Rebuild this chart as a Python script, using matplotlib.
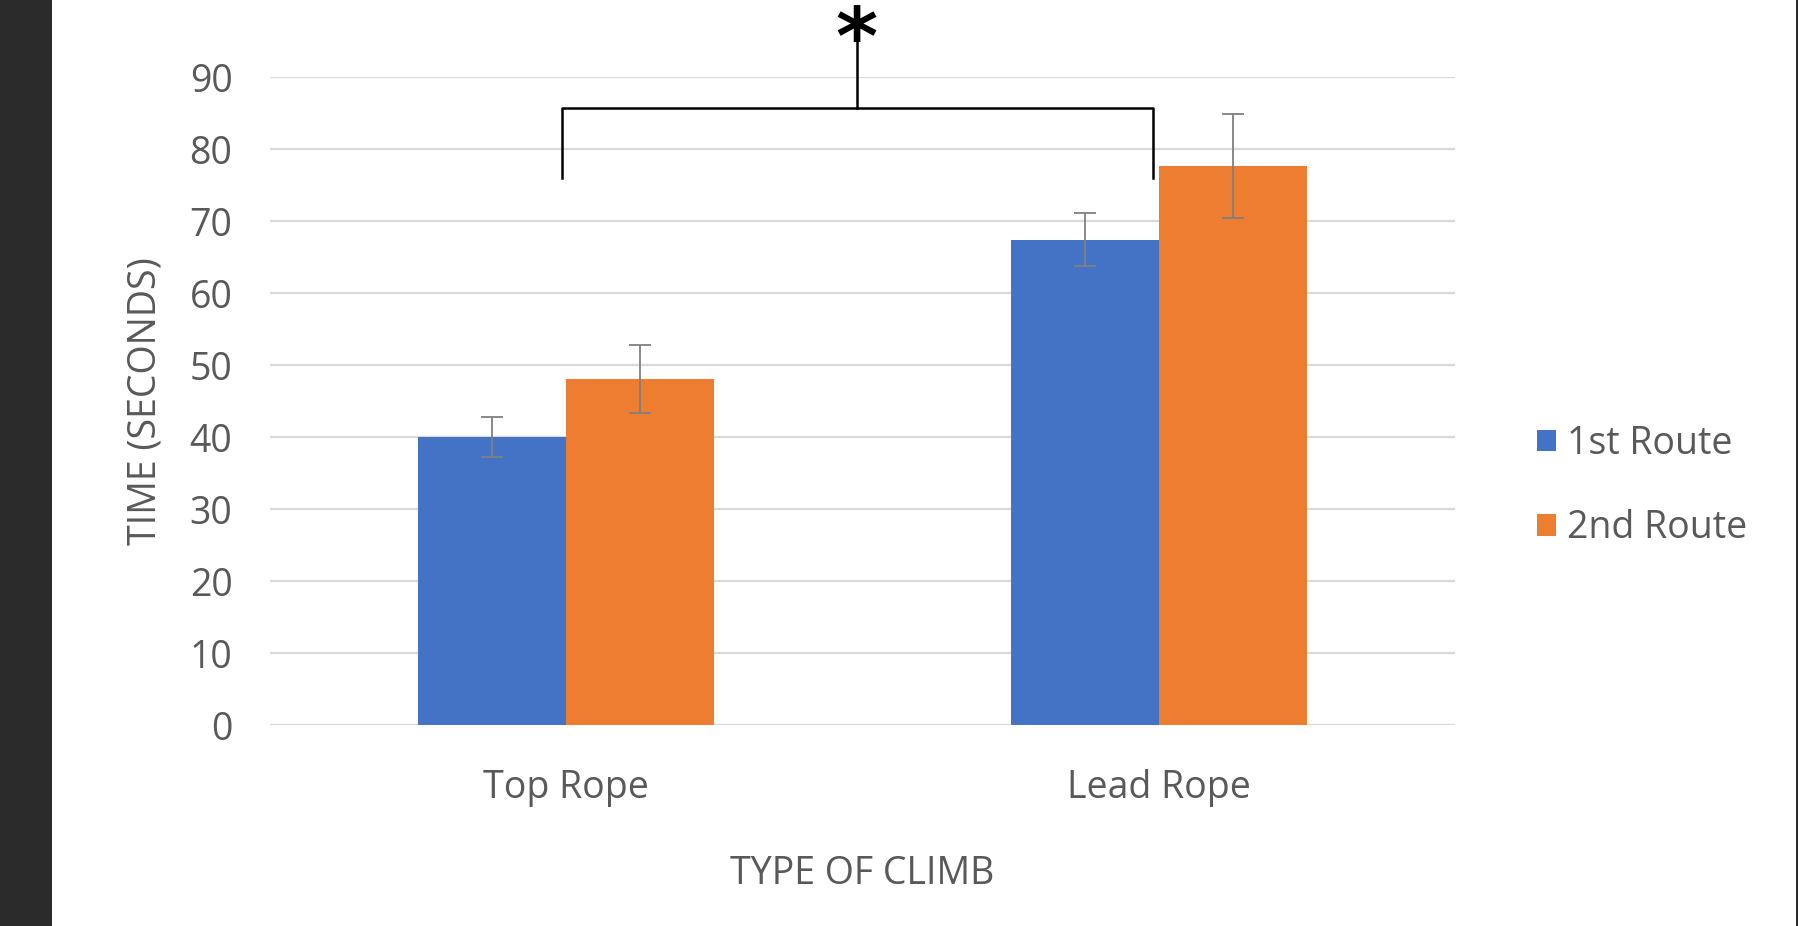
import matplotlib
matplotlib.use("Agg")
import matplotlib.pyplot as plt
from matplotlib.patches import Rectangle
import numpy as np

categories = ["Top Rope", "Lead Rope"]
series_names = ["1st Route", "2nd Route"]
route1 = [40.0, 67.4]
route2 = [48.1, 77.6]
route1_err = [2.8, 3.7]
route2_err = [4.7, 7.2]
yticks = [0, 10, 20, 30, 40, 50, 60, 70, 80, 90]

BLUE = "#4472C4"
ORANGE = "#ED7D31"
TXT = "#595959"
FONT = ["Open Sans", "DejaVu Sans"]

plt.rcParams['font.family'] = FONT

fig = plt.figure(figsize=(17.99, 9.26), dpi=100)
fig.patch.set_facecolor("white")
# dark strips at the figure edges
fig.patches.append(Rectangle((0, 0), 52 / 1799, 1, transform=fig.transFigure,
                             facecolor="#2b2b2b", edgecolor="none", zorder=0))
fig.patches.append(Rectangle((1 - 3 / 1799, 0), 3 / 1799, 1, transform=fig.transFigure,
                             facecolor="#2b2b2b", edgecolor="none", zorder=0))

ax = fig.add_axes([270 / 1799, (926 - 725) / 926, (1455 - 270) / 1799, (725 - 77) / 926])
ax.set_facecolor("none")

x = np.arange(len(categories))
w = 0.25
ekw = dict(ecolor="#808080", elinewidth=1.3, capthick=1.3)
ax.bar(x - w / 2, route1, w, color=BLUE, label=series_names[0], zorder=2,
       yerr=route1_err, capsize=8, error_kw=ekw)
ax.bar(x + w / 2, route2, w, color=ORANGE, label=series_names[1], zorder=2,
       yerr=route2_err, capsize=8, error_kw=ekw)

ax.set_xlim(-0.5, 1.5)
ax.set_ylim(0, 90)
ax.set_yticks(yticks)
ax.yaxis.grid(True, color="#d9d9d9", linewidth=1.6, zorder=0)
ax.set_axisbelow(True)
for s in ax.spines.values():
    s.set_visible(False)
ax.tick_params(axis="both", length=0, colors=TXT, labelsize=27)
ax.tick_params(axis="y", pad=27)
ax.tick_params(axis="x", pad=32)
ax.set_xticks(x)
ax.set_xticklabels(categories)

ax.set_ylabel("TIME (SECONDS)", fontsize=27, color=TXT)
ax.yaxis.set_label_coords(-0.089, 0.5)
ax.set_xlabel("TYPE OF CLIMB", fontsize=27, color=TXT)
ax.xaxis.set_label_coords(0.5, -0.2)

# significance bracket
bx = [-0.008, -0.008, 0.99, 0.99]
by = [76.0, 85.7, 85.7, 76.0]
ax.plot(bx, by, color="black", lw=1.8, clip_on=False, zorder=3)
ax.plot([0.49, 0.49], [85.7, 95.6], color="black", lw=1.8, clip_on=False, zorder=3)
ax.text(0.49, 91.8, "*", ha="center", va="baseline", fontsize=58, color="black",
        fontweight="bold", family=["DejaVu Sans"], clip_on=False)

leg = ax.legend(loc="center left", bbox_to_anchor=(1522 / 1799, (926 - 486) / 926),
                bbox_transform=fig.transFigure, frameon=False, fontsize=27,
                handlelength=0.5, handleheight=0.5, handletextpad=0.3,
                labelspacing=1.25, borderaxespad=0)
for t in leg.get_texts():
    t.set_color(TXT)

fig.savefig("out.png", dpi=100, facecolor="white")
